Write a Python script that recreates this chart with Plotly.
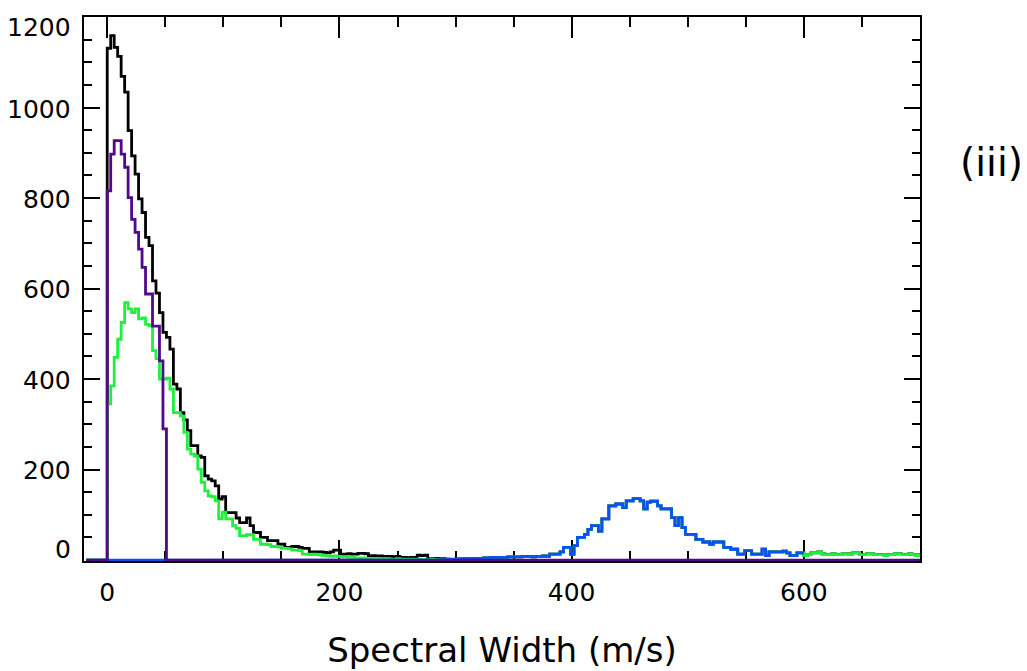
import plotly.graph_objects as go

# ---- data (histogram counts, bins of 3 m/s) ----
bin_width = 3
x_start = -18
lead_zeros = [0] * 6  # empty bins from -18 to 0 m/s

# total (black), bins 0..101 (0-306 m/s)
black_main = [1131, 1159, 1133, 1113, 1069, 1034, 949, 893, 853, 798,
              768, 713, 695, 617, 590, 547, 503, 492, 466, 389,
              378, 326, 310, 286, 253, 253, 230, 227, 186, 179,
              175, 164, 135, 140, 105, 105, 105, 93, 83, 83,
              93, 76, 61, 61, 50, 50, 43, 43, 43, 35,
              35, 28, 28, 30, 30, 28, 26, 26, 18, 18,
              18, 18,
              17, 16, 18, 22, 22, 13, 13, 14, 13, 13,
              15, 15, 14, 9, 10, 9, 9, 8, 8, 8,
              7, 8, 6, 6, 5, 6, 6, 11, 10, 11,
              3, 3, 4, 3, 3, 2, 1, 1, 2, 2]

# blue, bins 0..199 (0-600 m/s)
blue_vals = [0] * 96 + [
    1, 1, 2, 2, 2, 3, 3, 4, 4, 4,
    4, 4, 5, 5, 6, 6, 6, 6, 6, 7,
    7, 7, 7, 8, 8, 8, 7, 8, 8, 9,
    8, 13, 13, 13, 18, 28, 28, 13, 32, 50,
    50, 57, 68, 76, 76, 64, 91, 91, 120, 120,
    124, 124, 116, 131, 131, 136, 136, 131, 113, 128,
    130, 130, 120, 113, 113, 113, 94, 76, 94, 72,
    57, 57, 57, 46, 46, 40, 40, 35, 40, 40,
    40, 28, 28, 24, 24, 13, 13, 21, 21, 13,
    13, 13, 24, 10, 18, 18, 18, 18, 20, 16,
    10, 10, 16, 16]

# green, bins 0..99 (0-300 m/s)
green_low = [345, 385, 448, 488, 525, 569, 555, 547, 555, 533,
             535, 521, 518, 463, 445, 400, 400, 402, 378, 326,
             326, 318, 282, 245, 234, 230, 201, 172, 153, 142,
             140, 131, 91, 106, 91, 91, 76, 70, 54, 54,
             56, 56, 46, 46, 35, 35, 34, 30, 30, 29,
             26, 26, 25, 22, 22, 21, 13,
             13, 12, 13, 12, 11,
             10, 9, 8, 9, 8, 7, 7, 6, 6,
             5, 5, 5, 4, 4, 4, 3, 3, 3, 3,
             2, 2, 3, 2, 2, 2, 2, 1, 2, 1, 1, 1, 2, 1, 1, 1, 1, 1, 1]

# green, bins 200..233 (600-702 m/s)
green_high = [10, 12, 16, 16, 18, 14, 12, 12, 14, 12,
              12, 14, 14, 12, 16, 16, 12, 12, 14, 14,
              12, 12, 12, 10, 12, 12, 14, 14, 12, 12,
              14, 12, 10, 12]

# purple, bins 0..16 (0-51 m/s), empty afterwards
purple_vals = [816, 897, 927, 927, 897, 868, 801, 753, 724, 687,
               647, 588, 588, 517, 517, 440, 290] + [0] * 217

black = lead_zeros + black_main + blue_vals[102:200] + green_high
green = lead_zeros + green_low + blue_vals[100:200] + green_high
blue = lead_zeros + blue_vals
purple = lead_zeros + purple_vals

ytick_vals = [0, 200, 400, 600, 800, 1000, 1200]
ytick_text = [str(v) for v in ytick_vals]
ylabel_shift = [11, -1, -1, -1, -1, -2, -10]
xtick_vals = [0, 200, 400, 600]
xtick_text = [str(v) for v in xtick_vals]

FONT = "DejaVu Sans"


def steps(vals):
    xs = [x_start + bin_width * i for i in range(len(vals) + 1)]
    ys = list(vals) + [vals[-1]]
    return xs, ys


fig = go.Figure()
for vals, col in [(black, "#000000"), (green, "#1EF03C"),
                  (blue, "#0A50F5"), (purple, "#52088C")]:
    xs, ys = steps(vals)
    fig.add_trace(go.Scatter(x=xs, y=ys, mode="lines",
                             line=dict(color=col, width=2.8, shape="hv"),
                             showlegend=False, hoverinfo="skip"))

for v, t, s in zip(ytick_vals, ytick_text, ylabel_shift):
    fig.add_annotation(x=0, xref="paper", y=v, yref="y", text=t,
                       showarrow=False, xanchor="right", yanchor="middle",
                       xshift=-11, yshift=s,
                       font=dict(family=FONT, size=25, color="black"))

fig.add_annotation(x=1.085, y=0.732, xref="paper", yref="paper", text="(iii)",
                   showarrow=False, xanchor="center", yanchor="middle",
                   font=dict(family=FONT, size=39, color="black"))

fig.update_layout(
    width=1027, height=671,
    margin=dict(l=84, r=107, t=17, b=110),
    paper_bgcolor="white", plot_bgcolor="white",
    font=dict(family=FONT, size=24, color="black"),
)
fig.update_xaxes(
    range=[-20, 700], showgrid=False, zeroline=False, automargin=False,
    showline=True, linecolor="black", linewidth=2, mirror="allticks",
    ticks="inside", ticklen=21, tickwidth=2, tickcolor="black",
    tickvals=xtick_vals, ticktext=xtick_text,
    tickfont=dict(family=FONT, size=25, color="black"),
    ticklabelstandoff=8,
    minor=dict(ticks="inside", ticklen=10, tickwidth=2, tickcolor="black", dtick=50, tick0=0),
    title=dict(text="Spectral Width (m/s)", standoff=32,
               font=dict(family=FONT, size=34, color="black")),
    layer="below traces",
)
fig.update_yaxes(
    range=[-2, 1200], showgrid=False, zeroline=False, automargin=False,
    showline=True, linecolor="black", linewidth=2, mirror="allticks",
    ticks="inside", ticklen=16, tickwidth=2, tickcolor="black",
    tickvals=ytick_vals, showticklabels=False,
    minor=dict(ticks="inside", ticklen=8, tickwidth=2, tickcolor="black", dtick=50, tick0=0),
    layer="below traces",
)

fig.write_html("out.html")
